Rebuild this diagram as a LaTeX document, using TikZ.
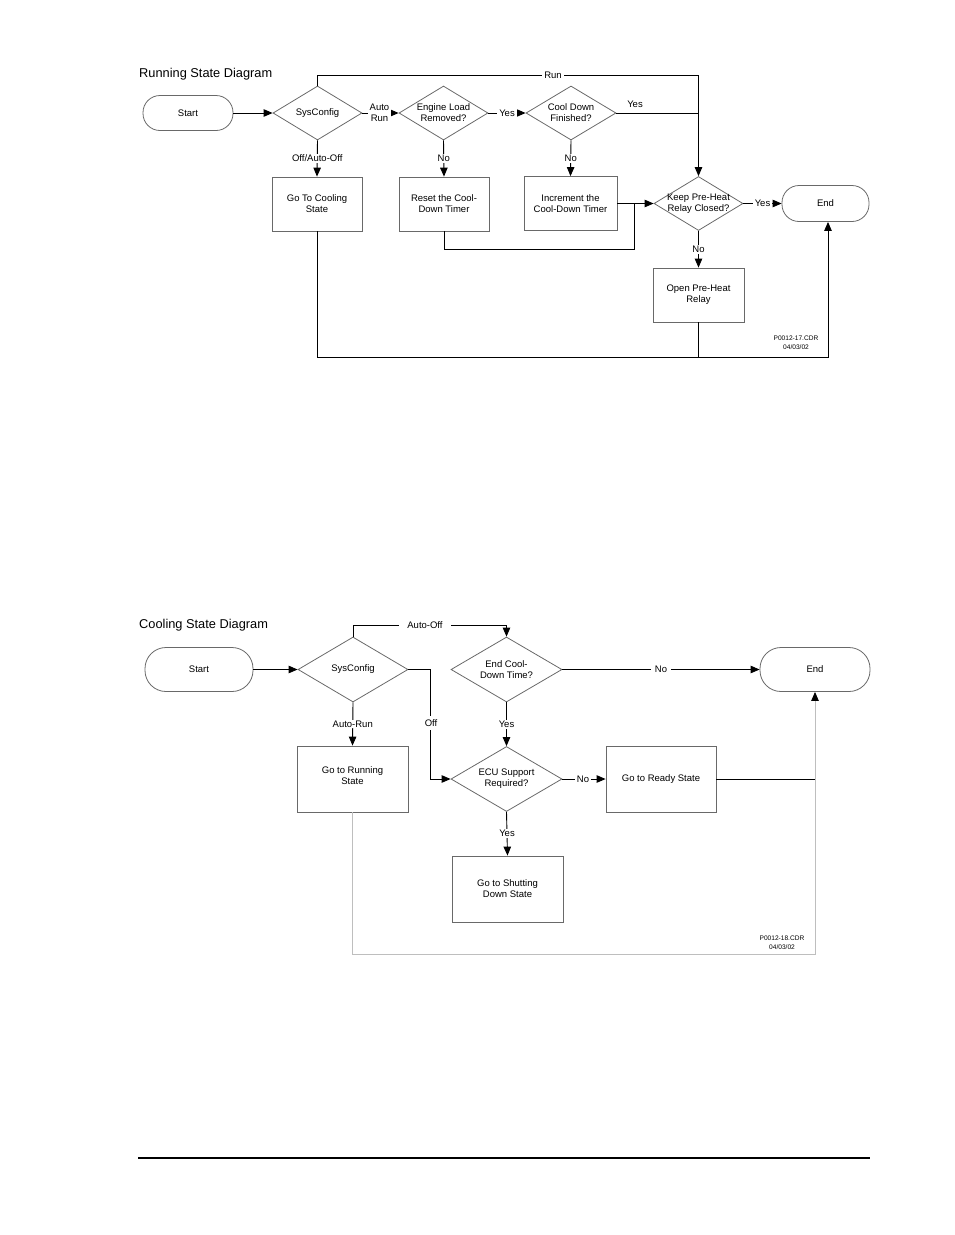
\documentclass[tikz,border=0pt]{standalone}
\usepackage{fontspec}
\setmainfont{Liberation Sans}
\usetikzlibrary{shapes.geometric,arrows.meta,calc}
\definecolor{edgegray}{RGB}{105,105,105}
\definecolor{linegray}{RGB}{190,190,190}
\tikzset{
  x=1pt, y=-1pt,
  txt/.style={font=\fontsize{9.5}{11}\selectfont, align=center, inner sep=0pt},
  box/.style={draw=edgegray, line width=0.8pt, rectangle, minimum width=#1, minimum height=54pt, inner sep=0pt, txt},
  box/.default=90pt,
  dia/.style={draw=edgegray, line width=0.8pt, diamond, inner sep=0pt},
  term/.style={draw=edgegray, line width=0.8pt, rectangle, rounded corners=17pt, inner sep=0pt, txt},
  conn/.style={draw=black, line width=0.9pt},
  arr/.style={conn, -{Triangle[length=9pt,width=7.5pt,color=black]}},
  lbl/.style={fill=white, inner xsep=2pt, inner ysep=1pt, font=\fontsize{9.5}{11}\selectfont, align=center},
  nlbl/.style={inner sep=0pt, font=\fontsize{9.5}{11}\selectfont},
  ttl/.style={anchor=west, inner sep=0pt, font=\fontsize{12.8}{14}\selectfont},
  refl/.style={inner sep=0pt, align=center, font=\fontsize{6.6}{9}\selectfont},
}
\begin{document}
\begin{tikzpicture}
\useasboundingbox (0,0) rectangle (954,1235);

% ================= Running State Diagram =================
\node[ttl] (t1) at (139,74) {Running State Diagram};

\node[term, minimum width=90pt, minimum height=35pt] (start1) at (188,113) {Start};
\node[dia, minimum width=89pt, minimum height=54pt] (sys1) at (317.5,113) {};
\node[txt] (sys1t) at (sys1) {SysConfig};
\node[dia, minimum width=89pt, minimum height=54pt] (eng) at (443.5,113) {};
\node[txt] (engt) at (eng) {Engine Load\\Removed?};
\node[dia, minimum width=90pt, minimum height=54pt] (cool) at (571,113) {};
\node[txt] (coolt) at (cool) {Cool Down\\Finished?};
\node[dia, minimum width=89pt, minimum height=54pt] (keep) at (698.5,203.5) {};
\node[txt] (keept) at (keep) {Keep Pre-Heat\\Relay Closed?};
\node[term, minimum width=87pt, minimum height=36pt] (end1) at (825.5,203.5) {End};

\node[box=90pt] (gtc) at (317,204) {Go To Cooling\\State};
\node[box=90pt] (res) at (444,204) {Reset the Cool-\\Down Timer};
\node[box=93pt] (inc) at (570.5,203.5) {Increment the\\Cool-Down Timer};
\node[box=91pt] (open) at (698.5,295) {Open Pre-Heat\\Relay};

\coordinate (j1) at (634,203.5);
\coordinate (b1) at (317,357);
\coordinate (runy) at (317.5,75);

\draw[arr] (start1.east) -- (sys1.west);
\draw[arr] (sys1.east) -- (eng.west) node[lbl, midway, xshift=-1pt] {Auto\\Run};
\draw[arr] (eng.east) -- (cool.west) node[lbl, midway] {Yes};
\draw[arr] (sys1.north) -- (runy) -| (keep.north);
\node[lbl] (runl) at (553,75) {Run};
\draw[conn] (cool.east) -- (cool.east -| keep.north);
\node[nlbl] (yes2) at (635,104) {Yes};
\draw[arr] (sys1.south) -- (gtc.north) node[lbl, midway] {Off/Auto-Off};
\draw[arr] (eng.south) -- (res.north) node[lbl, midway] {No};
\draw[arr] (cool.south) -- (inc.north) node[lbl, midway] {No};
\draw[arr] (inc.east) -- (keep.west);
\draw[conn] (res.south) -- ++(0,18) -| (j1);
\draw[arr] (keep.east) -- (end1.west) node[lbl, midway] {Yes};
\draw[arr] (keep.south) -- (open.north) node[lbl, midway] {No};
\draw[arr] (gtc.south) -- (b1) -| ([xshift=2.5pt]end1.south);
\draw[conn] (open.south) -- (open.south |- b1);

\node[refl] (ref1) at (796,343) {P0012-17.CDR\\04/03/02};

% ================= Cooling State Diagram =================
\node[ttl] (t2) at (139,625) {Cooling State Diagram};

\node[term, minimum width=108pt, minimum height=44pt, rounded corners=21pt] (start2) at (199,669.5) {Start};
\node[dia, minimum width=110pt, minimum height=65pt] (sys2) at (353,669.5) {};
\node[txt] (sys2t) at (sys2) {SysConfig};
\node[dia, minimum width=111pt, minimum height=65pt] (ecd) at (506.5,669.5) {};
\node[txt] (ecdt) at (ecd) {End Cool-\\Down Time?};
\node[term, minimum width=110pt, minimum height=44pt, rounded corners=21pt] (end2) at (815,669.5) {End};
\node[dia, minimum width=111pt, minimum height=65pt] (ecu) at (506.5,779) {};
\node[txt] (ecut) at (ecu) {ECU Support\\Required?};

\node[box=111pt, minimum height=66pt] (gtr) at (352.5,779) {};
\node[txt] (gtrt) at (352.5,776) {Go to Running\\State};
\node[box=110pt, minimum height=66pt] (ready) at (661,779) {Go to Ready State};
\node[box=111pt, minimum height=66pt] (shut) at (507.5,889) {Go to Shutting\\Down State};

\coordinate (aoy) at (353,625);
\coordinate (offa) at (430,669.5);
\coordinate (offb) at (430,779);
\coordinate (jr) at (815,779);
\coordinate (b2) at (352.5,954);

\draw[arr] (start2.east) -- (sys2.west);
\draw[arr] (sys2.north) -- (aoy) -| (ecd.north);
\node[lbl, inner xsep=8pt] (aol) at (425,625) {Auto-Off};
\draw[arr] (sys2.east) -- (offa) -- (offb) -- (ecu.west);
\node[lbl, inner xsep=1pt, inner ysep=4pt] (offl) at (431,723) {Off};
\draw[arr] (sys2.south) -- (gtr.north) node[lbl, midway] {Auto-Run};
\draw[arr] (ecd.east) -- (end2.west) node[lbl, midway, inner xsep=4pt] {No};
\draw[arr] (ecd.south) -- (ecu.north) node[lbl, midway] {Yes};
\draw[arr] (ecu.east) -- (ready.west) node[lbl, midway, xshift=-1pt] {No};
\draw[arr] (ecu.south) -- (shut.north) node[lbl, midway] {Yes};
\draw[conn] (ready.east) -- (jr);
\draw[arr, draw=linegray] (gtr.south) -- (b2) -| (end2.south);

\node[refl] (ref2) at (782,943) {P0012-18.CDR\\04/03/02};

% bottom rule
\draw[line width=2.5pt] (138,1158) -- (870,1158);
\end{tikzpicture}
\end{document}
